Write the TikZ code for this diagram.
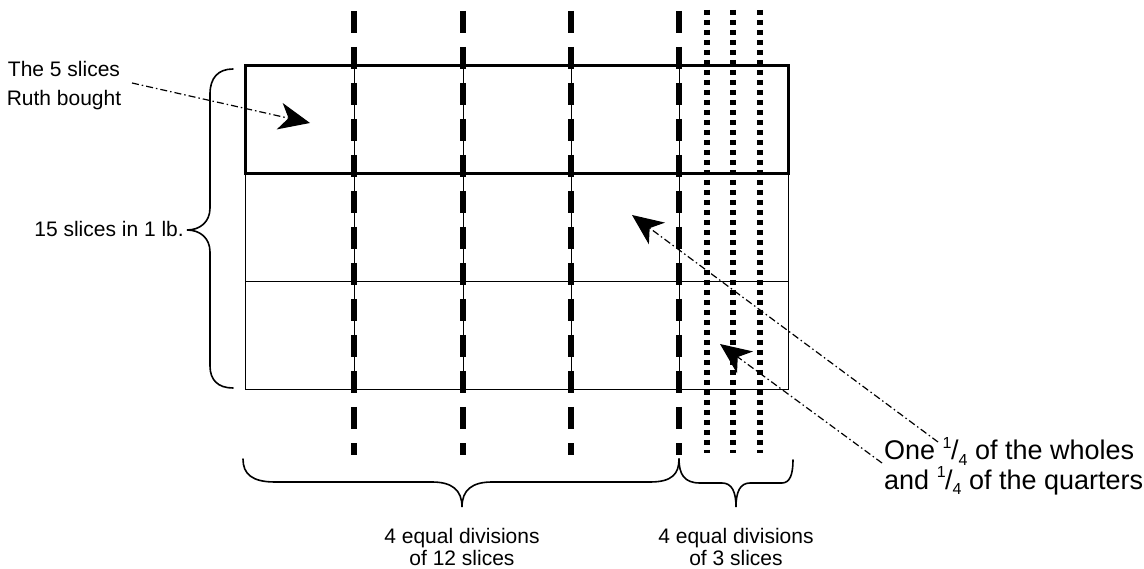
\documentclass[tikz,border=0pt]{standalone}
\usepackage{fontspec}
\setmainfont{Liberation Sans}
\usetikzlibrary{arrows.meta}
\tikzset{
  thinline/.style={line width=1pt},
  thickline/.style={line width=3pt},
  dashline/.style={line width=5.5pt, dash pattern=on 22pt off 14pt},
  dotline/.style={line width=5.5pt, dash pattern=on 5pt off 5pt},
  brace/.style={line width=1.6pt, line cap=round},
  pointer/.style={line width=1.2pt, dash pattern=on 7pt off 3pt on 1.5pt off 3pt,
    -{Stealth[length=31pt,width=27pt,inset=9pt]}},
  small/.style={font=\fontsize{21}{24}\selectfont, inner sep=0pt},
  big/.style={font=\fontsize{27}{30}\selectfont, inner sep=0pt, anchor=base west},
}
\newcommand{\quarter}{\raisebox{0.42em}{\fontsize{16}{16}\selectfont 1}\kern-0.5pt/\raisebox{-0.22em}{\fontsize{16}{16}\selectfont 4}}
\begin{document}
\begin{tikzpicture}[x=1pt,y=-1pt]
\useasboundingbox (0,0) rectangle (1144,569);
% grid (thin)
\draw[thinline] (245,174) -- (245,390) -- (788,390) -- (788,174);
\draw[thinline] (245,282) -- (788,282);
\foreach \x in {354,463,571,679} \draw[thinline] (\x,66) -- (\x,390);
% top row (thick)
\draw[thickline] (245,66) rectangle (788,174);
% dashed and dotted division lines
\foreach \x in {354,463,571,679} \draw[dashline] (\x,11) -- (\x,455);
\foreach \x in {707,733,760} \draw[dotline] (\x,10) -- (\x,453);
% left brace
\draw[brace] (233,69) .. controls (218,69) and (210,78) .. (210,94) -- (210,208)
  .. controls (210,222) and (200,230) .. (187,230)
  .. controls (200,230) and (210,238) .. (210,252) -- (210,366)
  .. controls (210,380) and (218,388) .. (233,388);
% bottom braces
\draw[brace] (243,459) .. controls (243,474) and (252,482) .. (275,482) -- (432,482)
  .. controls (452,482) and (462,490) .. (462,507)
  .. controls (462,490) and (472,482) .. (492,482) -- (650,482)
  .. controls (672,482) and (679,474) .. (679,459);
\draw[brace] (679,459) .. controls (679,474) and (684,483) .. (700,483) -- (722,483)
  .. controls (732,483) and (736,492) .. (736,507)
  .. controls (736,492) and (740,483) .. (750,483) -- (782,483)
  .. controls (790,483) and (793,474) .. (793,460);
% labels
\node[small, anchor=base] (ruthA) at (64,77) {The 5 slices};
\node[small, anchor=base] (ruthB) at (64,106) {Ruth bought};
\node[small, anchor=base east] (fifteen) at (184,237) {15 slices in 1 lb.};
\node[small, anchor=base] (twelveA) at (462,543) {4 equal divisions};
\node[small, anchor=base] (twelveB) at (462,565) {of 12 slices};
\node[small, anchor=base] (threeA) at (736,543) {4 equal divisions};
\node[small, anchor=base] (threeB) at (736,565) {of 3 slices};
\node[big] (oneq) at (884,460) {One \quarter{} of the wholes};
\node[big] (andq) at (884,489) {and \quarter{} of the quarters};
% pointer coordinates
\coordinate (p1s) at (132,83);
\coordinate (p1e) at (310,123);
\coordinate (p2s) at (938,442);
\coordinate (p2e) at (632,215);
\coordinate (p3s) at (882,463);
\coordinate (p3e) at (720,344);
\draw[pointer] (p1s) -- (p1e);
\draw[pointer] (p2s) -- (p2e);
\draw[pointer] (p3s) -- (p3e);
\end{tikzpicture}
\end{document}
